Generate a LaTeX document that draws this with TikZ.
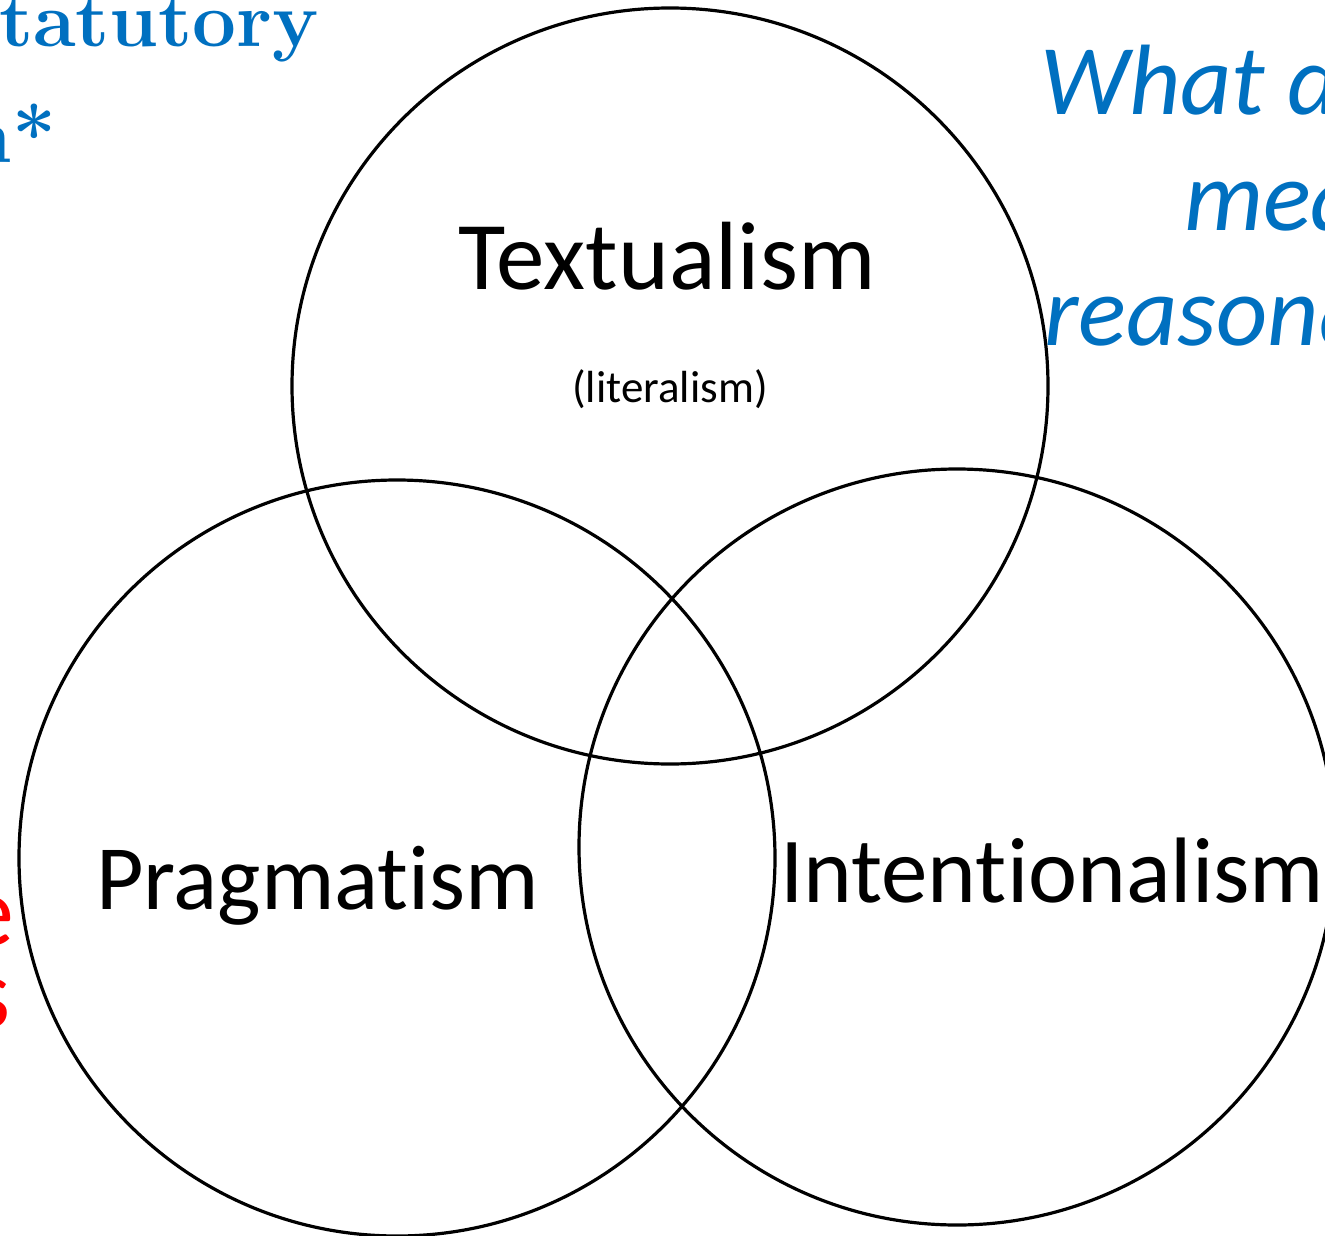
\documentclass[tikz,border=0pt]{standalone}
\usepackage{fontspec}
\newfontfamily\calfont{Carlito}[Ligatures={NoCommon,NoContextual,NoRare},RawFeature={-liga;-clig;-calt;-dlig}]
\definecolor{slideblue}{HTML}{0070C0}
\definecolor{slidered}{HTML}{FF0000}
\tikzset{
  ring/.style={draw=black,line width=3.2pt},
  lbl/.style={inner sep=0pt,outer sep=0pt,font=\calfont},
  bluetitle/.style={inner sep=0pt,outer sep=0pt,text=slideblue,font=\fontsize{78}{92}\selectfont\bfseries},
  bluequest/.style={inner sep=0pt,outer sep=0pt,text=slideblue,font=\fontsize{100}{120}\selectfont\calfont\itshape},
  rednote/.style={inner sep=0pt,outer sep=0pt,text=slidered,font=\fontsize{100}{120}\selectfont\calfont}
}
\begin{document}
\begin{tikzpicture}[x=1pt,y=-1pt]
\useasboundingbox (0,0) rectangle (1325,1236);
\clip (0,0) rectangle (1325,1236);
\fill[white] (0,0) rectangle (1325,1236);
% circles
\draw[ring] (670,386) circle[radius=378pt];
\draw[ring] (397,858) circle[radius=378pt];
\draw[ring] (957,847) circle[radius=378pt];
% labels
\node[lbl,anchor=base,font=\fontsize{97}{116}\selectfont\calfont] (tex) at (667,289) {Textualism};
\node[lbl,anchor=base,font=\fontsize{45}{54}\selectfont\calfont] (lit) at (670,402) {(literalism)};
\node[lbl,anchor=base west,font=\fontsize{92}{110}\selectfont\calfont] (prag) at (96,909) {Pragmat\kern0pt ism};
\node[lbl,anchor=base west,font=\fontsize{93}{110}\selectfont\calfont] (inten) at (780,902) {Intent\kern0pt ional\kern0pt ism};
% cut-off slide texts
\node[bluetitle,anchor=base west] (stat) at (-1,47) {tatutory};
\node[bluetitle,anchor=base east] (interp) at (56,162) {n*};
\node[bluequest,anchor=base west] (q1) at (1040,115) {What d};
\node[bluequest,anchor=base west] (q2) at (1184,230) {mea};
\node[bluequest,anchor=base west] (q3) at (1044,345) {reasona};
\node[rednote,anchor=base east] (r1) at (14,945) {e};
\node[rednote,anchor=base east] (r2) at (11,1027) {s};
\end{tikzpicture}
\end{document}
